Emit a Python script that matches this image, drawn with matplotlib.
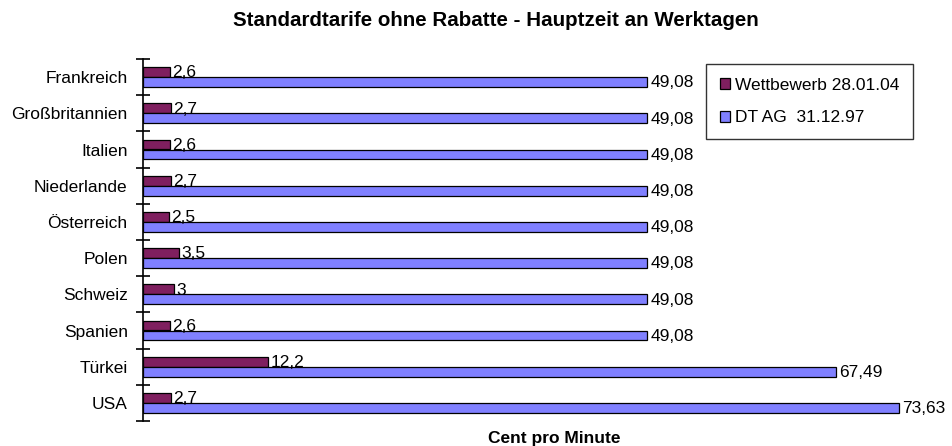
"""
Standardtarife ohne Rabatte - horizontales Balkendiagramm
"""

import matplotlib
matplotlib.use("Agg")
import matplotlib.pyplot as plt
import numpy as np
from matplotlib.patches import Patch


# Daten (Cent pro Minute)
COUNTRIES = ["Frankreich", "Großbritannien", "Italien", "Niederlande", "Österreich",
             "Polen", "Schweiz", "Spanien", "Türkei", "USA"]
WETTBEWERB = [2.6, 2.7, 2.6, 2.7, 2.5, 3.5, 3, 2.6, 12.2, 2.7]
DT_AG = [49.08, 49.08, 49.08, 49.08, 49.08, 49.08, 49.08, 49.08, 67.49, 73.63]
SERIES_NAMES = ["Wettbewerb 28.01.04", "DT AG  31.12.97"]

COLOR_WB = "#7F1F5F"
COLOR_DT = "#8080FF"
FS = 12.5

plt.rcParams["font.family"] = ["Liberation Sans", "DejaVu Sans"]


def fmt(v):
    # deutsche Dezimalschreibweise
    return f"{v:g}".replace(".", ",")


fig = plt.figure(figsize=(9.53, 4.46), dpi=100)
W, H = 953, 446
ax = fig.add_axes([143 / W, 25 / H, (953 - 143) / W, (421 - 59) / H])

y = np.arange(len(COUNTRIES))
h = 0.276
ax.barh(y - h / 2, WETTBEWERB, height=h, color=COLOR_WB, edgecolor="black", linewidth=0.9)
ax.barh(y + h / 2, DT_AG, height=h, color=COLOR_DT, edgecolor="black", linewidth=0.9)

for yi, v in zip(y, WETTBEWERB):
    ax.text(v + 0.2, yi - h / 2 + 0.02, fmt(v), va="center", ha="left", fontsize=FS)
for yi, v in zip(y, DT_AG):
    ax.text(v + 0.3, yi + h / 2 + 0.02, fmt(v), va="center", ha="left", fontsize=FS)

ax.set_xlim(0, 810 / 10.27)
ax.set_ylim(len(COUNTRIES) - 0.5, -0.5)

# Striche an den Kategoriegrenzen, Beschriftung in der Mitte
ax.set_yticks(np.arange(len(COUNTRIES) + 1) - 0.5)
ax.set_yticklabels([])
ax.tick_params(axis="y", which="major", direction="inout", length=10, width=1.2)
ax.set_yticks(y, minor=True)
ax.set_yticklabels(COUNTRIES, minor=True, fontsize=FS)
ax.tick_params(axis="y", which="minor", length=0, pad=11)

ax.set_xticks([])
for s in ["top", "right", "bottom"]:
    ax.spines[s].set_visible(False)
ax.spines["left"].set_linewidth(1.2)

ax.set_xlabel("Cent pro Minute", fontsize=12.5, fontweight="bold")
ax.xaxis.set_label_coords((554 - 143) / (953 - 143), -10 / (421 - 59))

fig.text(496 / W, 1 - 21 / H, "Standardtarife ohne Rabatte - Hauptzeit an Werktagen",
         ha="center", va="center", fontsize=14.8, fontweight="bold")

handles = [Patch(facecolor=COLOR_WB, edgecolor="black", linewidth=0.9),
           Patch(facecolor=COLOR_DT, edgecolor="black", linewidth=0.9)]
leg = fig.legend(handles, SERIES_NAMES, loc="upper left",
                 bbox_to_anchor=(706 / W, 1 - 64 / H), fontsize=FS,
                 frameon=True, fancybox=False, handlelength=0.6, handleheight=0.6,
                 handletextpad=0.25, labelspacing=1.0, borderpad=0.8,
                 borderaxespad=0)
leg.get_frame().set_edgecolor("black")
leg.get_frame().set_linewidth(1.0)

fig.savefig("out.png", dpi=100, facecolor="white")
